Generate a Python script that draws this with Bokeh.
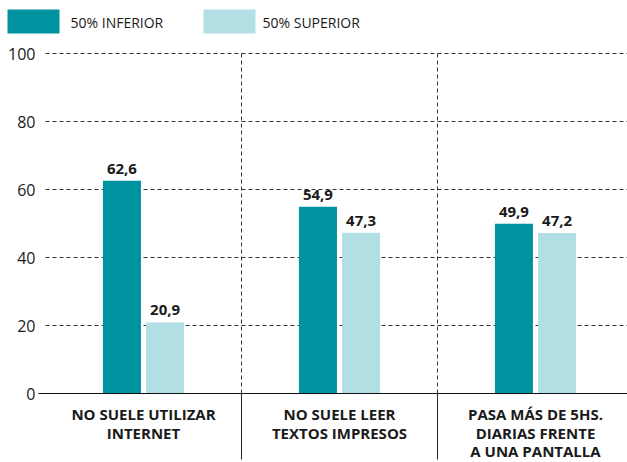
from bokeh.plotting import figure
from bokeh.models import ColumnDataSource, Range1d
from bokeh.core.properties import value
from bokeh.embed import file_html
from bokeh.resources import INLINE

categories = ["NO SUELE UTILIZAR\nINTERNET", "NO SUELE LEER\nTEXTOS IMPRESOS", "PASA MÁS DE 5HS.\nDIARIAS FRENTE\nA UNA PANTALLA"]
inferior = [62.6, 54.9, 49.9]
superior = [20.9, 47.3, 47.2]
series_names = ["50% INFERIOR", "50% SUPERIOR"]
y_ticks = [0, 20, 40, 60, 80, 100]

TEAL = "#00939f"
LIGHT = "#b2dfe3"
TXT = "#1a1a1a"
FONT = "Open Sans"

# layout constants (pixels)
W, H = 627, 462
PLOT_LEFT = 45      # where the value area starts
Y0_PX, Y100_PX = 393, 53
CAT_PX = 196        # width of one category

X_START = -PLOT_LEFT / CAT_PX
X_END = (W - PLOT_LEFT) / CAT_PX
PX_PER_UNIT = (Y0_PX - Y100_PX) / 100.0
Y_START = -(H - Y0_PX) / PX_PER_UNIT
Y_END = Y0_PX / PX_PER_UNIT


def px_x(px):
    return (px - PLOT_LEFT) / CAT_PX


def px_y(py):
    return (Y0_PX - py) / PX_PER_UNIT


p = figure(width=W, height=H, output_backend="svg", toolbar_location=None,
           x_axis_location=None, y_axis_location=None,
           min_border_left=0, min_border_right=0, min_border_top=0, min_border_bottom=0)
p.x_range = Range1d(X_START, X_END)
p.y_range = Range1d(Y_START, Y_END)
p.outline_line_color = None
p.background_fill_color = "white"
p.border_fill_color = "white"
p.grid.visible = False

# value-axis tick labels and dashed gridlines
p.text(x=[0] * len(y_ticks), y=y_ticks, text=[str(t) for t in y_ticks], x_offset=-10,
       text_align="right", text_baseline="middle", text_font=value(FONT),
       text_font_size="16px", text_color=TXT)
grid_ticks = [t for t in y_ticks if t > 0]
p.segment(x0=[0] * len(grid_ticks), x1=[X_END] * len(grid_ticks), y0=grid_ticks, y1=grid_ticks,
          line_color="#333333", line_dash="4 3", line_width=1)

centers = [i + 0.5 for i in range(len(categories))]
off = 0.11
bw = 0.194
src = ColumnDataSource(dict(
    x_inf=[c - off for c in centers], x_sup=[c + off for c in centers],
    inf=inferior, sup=superior,
    inf_lbl=[f"{v:.1f}".replace(".", ",") for v in inferior],
    sup_lbl=[f"{v:.1f}".replace(".", ",") for v in superior],
))

p.vbar(x="x_inf", top="inf", bottom=0, width=bw, source=src, fill_color=TEAL, line_color=None)
p.vbar(x="x_sup", top="sup", bottom=0, width=bw, source=src, fill_color=LIGHT, line_color=None)

for xc, yc, lc in (("x_inf", "inf", "inf_lbl"), ("x_sup", "sup", "sup_lbl")):
    p.text(x=xc, y=yc, text=lc, source=src, y_offset=-7, text_align="center",
           text_baseline="bottom", text_font=value(FONT), text_font_style="bold",
           text_font_size="15px", text_color=TXT)

# baseline (category axis line)
p.segment(x0=[px_x(38)], x1=[X_END], y0=[0], y1=[0], line_color="#111111", line_width=1.2)

# category separators
seps = [float(i) for i in range(1, len(categories))]
p.segment(x0=seps, x1=seps, y0=[0] * len(seps), y1=[100] * len(seps),
          line_color="#333333", line_dash="4 3", line_width=1)
p.segment(x0=seps, x1=seps, y0=[0] * len(seps), y1=[px_y(459)] * len(seps),
          line_color="#222222", line_width=1)

# category labels
p.text(x=centers, y=[-3.15] * len(categories), text=categories, text_align="center",
       text_baseline="top", text_font=value(FONT), text_font_style="bold",
       text_font_size="15px", text_color=TXT, text_line_height=0.92)

# legend
sw_left = [px_x(7), px_x(203)]
sw_right = [px_x(59), px_x(255)]
p.quad(left=sw_left, right=sw_right, top=[px_y(9)] * 2, bottom=[px_y(33)] * 2,
       fill_color=[TEAL, LIGHT], line_color=None)
p.text(x=[px_x(70), px_x(262)], y=[px_y(21.5)] * 2, text=series_names,
       text_align="left", text_baseline="middle", text_font=value(FONT),
       text_font_size="14px", text_color=TXT)

open("out.html", "w").write(file_html(p, INLINE))
